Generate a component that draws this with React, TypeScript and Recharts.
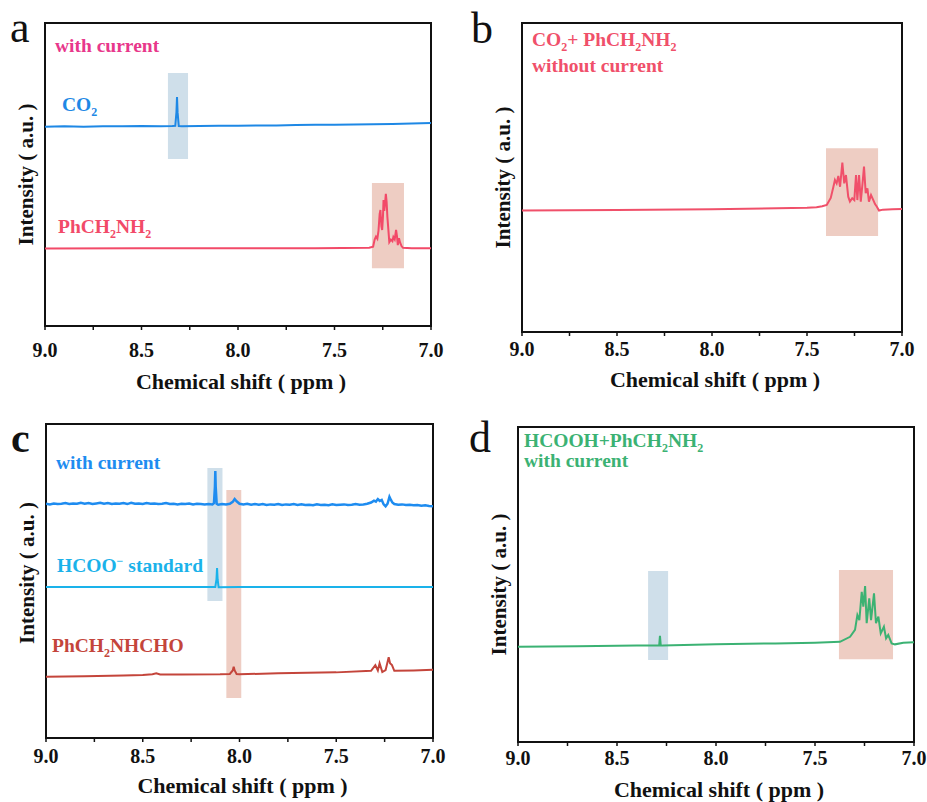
import React from 'react'
import { ComposedChart, Line, XAxis, YAxis, ReferenceArea } from 'recharts'

const SERIF = '"Liberation Serif", "Times New Roman", serif'
const INK = '#111'

const shiftTicks = [9, 8.75, 8.5, 8.25, 8, 7.75, 7.5, 7.25, 7]

// a: CO2 with current
const aCo2Shift = [9.0, 8.9, 8.8, 8.7, 8.6, 8.5, 8.4, 8.34, 8.325, 8.319, 8.316, 8.313, 8.307, 8.29, 8.2, 8.1, 8.0, 7.9, 7.8, 7.7, 7.6, 7.5, 7.4, 7.3, 7.2, 7.1, 7.0]
const aCo2Int = [65.8, 65.9, 65.8, 65.9, 65.9, 66.0, 65.9, 66.0, 66.1, 70.5, 75.6, 70.5, 66.0, 65.9, 66.0, 66.1, 66.1, 66.2, 66.2, 66.3, 66.4, 66.4, 66.5, 66.6, 66.7, 66.8, 67.0]

// a: PhCH2NH2 with current
const aAmineShift = [9.0, 8.5, 8.0, 7.6, 7.32, 7.3, 7.292, 7.285, 7.278, 7.272, 7.266, 7.262, 7.257, 7.253, 7.249, 7.246, 7.242, 7.238, 7.234, 7.23, 7.226, 7.222, 7.216, 7.208, 7.2, 7.195, 7.188, 7.181, 7.176, 7.172, 7.166, 7.16, 7.152, 7.145, 7.1, 7.0]
const aAmineInt = [25.6, 25.7, 25.7, 25.7, 25.8, 26.2, 28.5, 29.5, 28.8, 31.5, 37.0, 38.3, 33.0, 31.7, 36.0, 41.6, 38.0, 40.5, 43.6, 41.0, 36.0, 32.7, 27.7, 28.5, 28.0, 29.4, 28.6, 31.7, 29.5, 26.7, 29.0, 27.5, 26.3, 25.8, 25.7, 25.7]

// b: CO2 + PhCH2NH2 without current
const bMixShift = [9.0, 8.5, 8.0, 7.5, 7.45, 7.42, 7.396, 7.375, 7.361, 7.353, 7.344, 7.335, 7.326, 7.314, 7.304, 7.295, 7.283, 7.274, 7.262, 7.251, 7.242, 7.235, 7.226, 7.217, 7.207, 7.2, 7.191, 7.182, 7.174, 7.163, 7.151, 7.142, 7.133, 7.121, 7.1, 7.05, 7.0]
const bMixInt = [39.3, 39.5, 39.7, 40.2, 40.4, 40.7, 41.1, 43.4, 47.0, 49.2, 48.1, 50.5, 47.0, 54.8, 48.1, 50.8, 43.8, 42.2, 43.3, 42.7, 50.8, 42.7, 50.8, 42.2, 48.6, 53.5, 44.9, 46.5, 42.2, 44.3, 42.7, 41.4, 40.6, 39.3, 39.6, 39.7, 39.8]

// c: with current (noisy baseline)
const cRunShift = [9.0, 8.98, 8.96, 8.94, 8.92, 8.9, 8.88, 8.86, 8.84, 8.82, 8.8, 8.78, 8.76, 8.74, 8.72, 8.7, 8.68, 8.66, 8.64, 8.62, 8.6, 8.58, 8.56, 8.54, 8.52, 8.5, 8.48, 8.46, 8.44, 8.42, 8.4, 8.38, 8.36, 8.34, 8.32, 8.3, 8.28, 8.26, 8.24, 8.22, 8.2, 8.18, 8.16, 8.14, 8.132, 8.127, 8.125, 8.123, 8.118, 8.11, 8.09, 8.07, 8.05, 8.035, 8.025, 8.015, 8.0, 7.98, 7.96, 7.94, 7.92, 7.9, 7.88, 7.86, 7.84, 7.82, 7.8, 7.78, 7.76, 7.74, 7.72, 7.7, 7.68, 7.66, 7.64, 7.62, 7.6, 7.58, 7.56, 7.54, 7.52, 7.5, 7.48, 7.46, 7.44, 7.42, 7.4, 7.38, 7.36, 7.34, 7.32, 7.305, 7.295, 7.285, 7.275, 7.265, 7.255, 7.245, 7.235, 7.225, 7.218, 7.21, 7.2, 7.18, 7.16, 7.14, 7.12, 7.1, 7.08, 7.06, 7.04, 7.02, 7.0]
const cRunInt = [74.6, 74.4, 74.7, 74.5, 74.6, 74.8, 74.5, 74.7, 74.6, 74.9, 74.6, 74.8, 74.5, 74.7, 74.9, 74.6, 74.8, 74.5, 74.7, 74.6, 74.8, 74.5, 74.9, 74.6, 74.7, 74.5, 74.8, 74.6, 74.7, 74.5, 74.6, 74.8, 74.5, 74.6, 74.4, 74.6, 74.5, 74.7, 74.4, 74.6, 74.5, 74.4, 74.5, 74.4, 74.8, 80.0, 85.0, 80.0, 74.6, 74.3, 74.5, 74.4, 74.6, 75.2, 76.1, 75.4, 74.6, 74.4, 74.6, 74.3, 74.5, 74.3, 74.5, 74.2, 74.4, 74.3, 74.5, 74.2, 74.4, 74.3, 74.5, 74.2, 74.4, 74.2, 74.3, 74.1, 74.4, 74.2, 74.3, 74.1, 74.4, 74.2, 74.3, 74.4, 74.2, 74.3, 74.5, 74.3, 74.4, 74.6, 75.0, 75.6, 75.3, 76.1, 75.5, 75.8, 74.4, 73.8, 74.6, 76.8, 75.9, 75.0, 74.5, 74.3, 74.4, 74.2, 74.3, 74.1, 74.2, 74.0, 74.1, 73.9, 73.8]

// c: HCOO- standard
const cFormateShift = [9.0, 8.5, 8.2, 8.125, 8.119, 8.116, 8.113, 8.108, 8.0, 7.5, 7.0]
const cFormateInt = [48.1, 48.1, 48.1, 48.1, 50.5, 54.1, 50.5, 48.0, 48.1, 48.1, 48.1]

// c: PhCH2NHCHO
const cAmideShift = [9.0, 8.8, 8.6, 8.5, 8.45, 8.43, 8.41, 8.3, 8.1, 8.05, 8.035, 8.03, 8.025, 8.015, 8.0, 7.8, 7.5, 7.32, 7.298, 7.285, 7.276, 7.262, 7.245, 7.229, 7.222, 7.212, 7.2, 7.1, 7.0]
const cAmideInt = [19.5, 19.7, 19.9, 20.1, 20.3, 20.6, 20.2, 20.2, 20.3, 20.4, 21.5, 22.7, 21.5, 20.4, 20.3, 20.6, 20.9, 21.4, 23.2, 21.5, 23.8, 21.0, 21.6, 25.7, 23.8, 23.2, 21.4, 21.5, 21.7]

// d: HCOOH + PhCH2NH2 with current
const dMixShift = [9.0, 8.7, 8.4, 8.3, 8.287, 8.283, 8.279, 8.27, 8.0, 7.7, 7.5, 7.374, 7.323, 7.298, 7.286, 7.276, 7.264, 7.256, 7.247, 7.239, 7.226, 7.217, 7.202, 7.192, 7.18, 7.168, 7.152, 7.141, 7.13, 7.113, 7.096, 7.054, 7.0]
const dMixInt = [30.2, 30.4, 30.6, 30.6, 30.7, 33.7, 30.7, 30.6, 31.0, 31.3, 31.5, 31.8, 33.4, 35.6, 40.3, 38.7, 47.7, 43.0, 49.5, 37.7, 45.6, 38.7, 47.2, 37.7, 39.8, 34.5, 36.6, 32.9, 34.0, 31.3, 31.0, 31.5, 31.7]

const pts = (xs: number[], ys: number[]) => xs.map((x, i) => ({ x, y: ys[i] }))

const BLUE_BOX = '#9FBFD5'
const RED_BOX = '#DD9B87'

type Frame = { x: number; y: number; w: number; h: number }
type Series = { data: { x: number; y: number }[]; color: string; width?: number }
type Box = { x1: number; x2: number; y1: number; y2: number; fill: string }

const panels: { frame: Frame; series: Series[]; boxes: Box[]; tickDy: number; titleDy: number; yShift: number }[] = [
  {
    frame: { x: 45, y: 23, w: 386, h: 303 },
    series: [
      { data: pts(aCo2Shift, aCo2Int), color: '#1E88E5' },
      { data: pts(aAmineShift, aAmineInt), color: '#F24A68' },
    ],
    boxes: [
      { x1: 8.363, x2: 8.259, y1: 55.1, y2: 83.5, fill: BLUE_BOX },
      { x1: 7.306, x2: 7.14, y1: 19.1, y2: 47.2, fill: RED_BOX },
    ],
    tickDy: 31,
    titleDy: 63,
    yShift: 0,
  },
  {
    frame: { x: 522, y: 23, w: 380, h: 309 },
    series: [{ data: pts(bMixShift, bMixInt), color: '#F0506A' }],
    boxes: [{ x1: 7.4, x2: 7.126, y1: 31.1, y2: 59.5, fill: RED_BOX }],
    tickDy: 24,
    titleDy: 55,
    yShift: 0,
  },
  {
    frame: { x: 46, y: 424, w: 387, h: 314 },
    series: [
      { data: pts(cRunShift, cRunInt), color: '#1E8CF0', width: 2.5 },
      { data: pts(cFormateShift, cFormateInt), color: '#1AB2EA' },
      { data: pts(cAmideShift, cAmideInt), color: '#C4453B' },
    ],
    boxes: [
      { x1: 8.166, x2: 8.088, y1: 43.6, y2: 86, fill: BLUE_BOX },
      { x1: 8.068, x2: 7.991, y1: 12.7, y2: 79, fill: RED_BOX },
    ],
    tickDy: 25,
    titleDy: 55,
    yShift: -8,
  },
  {
    frame: { x: 518, y: 427, w: 396, h: 315 },
    series: [{ data: pts(dMixShift, dMixInt), color: '#3BB273' }],
    boxes: [
      { x1: 8.343, x2: 8.242, y1: 26, y2: 54.3, fill: BLUE_BOX },
      { x1: 7.379, x2: 7.106, y1: 26.3, y2: 54.6, fill: RED_BOX },
    ],
    tickDy: 23,
    titleDy: 55,
    yShift: 0,
  },
]

function ShiftTick(props: any) {
  const { x, y, payload, labelDy } = props
  const v = payload.value as number
  const major = Math.abs(v * 2 - Math.round(v * 2)) < 1e-6
  return (
    <g>
      <line x1={x} x2={x} y1={y} y2={y + 4} stroke={INK} strokeWidth={1.5} />
      {major && (
        <text x={x} y={y + labelDy} textAnchor="middle" fontSize={20} fontWeight="bold" fontFamily={SERIF} fill={INK}>
          {v.toFixed(1)}
        </text>
      )}
    </g>
  )
}

function Spectrum({ frame, series, boxes, tickDy }: { frame: Frame; series: Series[]; boxes: Box[]; tickDy: number }) {
  const ML = 20
  const MR = 20
  const MT = 10
  const AXH = 40
  return (
    <div style={{ position: 'absolute', left: frame.x - ML, top: frame.y - MT }}>
      <ComposedChart
        width={frame.w + ML + MR}
        height={frame.h + MT + AXH}
        margin={{ top: MT, right: MR, bottom: 0, left: ML }}
      >
        <XAxis
          dataKey="x"
          type="number"
          domain={[7, 9]}
          reversed
          allowDataOverflow
          ticks={shiftTicks}
          interval={0}
          tickSize={0}
          tickMargin={0}
          tickLine={false}
          axisLine={false}
          height={AXH}
          tick={(p: any) => <ShiftTick {...p} labelDy={tickDy} />}
        />
        <YAxis type="number" domain={[0, 100]} allowDataOverflow hide />
        {boxes.map((b, i) => (
          <ReferenceArea
            key={i}
            x1={b.x1}
            x2={b.x2}
            y1={b.y1}
            y2={b.y2}
            fill={b.fill}
            fillOpacity={0.5}
            stroke="none"
            ifOverflow="visible"
          />
        ))}
        {series.map((s, i) => (
          <Line
            key={i}
            data={s.data}
            dataKey="y"
            type="linear"
            stroke={s.color}
            strokeWidth={s.width ?? 2}
            dot={false}
            activeDot={false}
            isAnimationActive={false}
          />
        ))}
        {/* plot frame */}
        <ReferenceArea x1={9} x2={7} y1={0} y2={100} fill="none" stroke={INK} strokeWidth={2} ifOverflow="visible" />
      </ComposedChart>
    </div>
  )
}

type Part = [string, ('sub' | 'sup')?]

function RichText({ x, y, color, parts, size = 19.5 }: { x: number; y: number; color: string; parts: Part[]; size?: number }) {
  let shift = 0
  return (
    <text x={x} y={y} fill={color} fontSize={size} fontWeight="bold" fontFamily={SERIF}>
      {parts.map(([s, kind], i) => {
        const target = kind === 'sub' ? 5 : kind === 'sup' ? -7 : 0
        const dy = target - shift
        shift = target
        return (
          <tspan key={i} dy={dy} fontSize={kind ? 12 : size}>
            {s}
          </tspan>
        )
      })}
    </text>
  )
}

function Titles() {
  return (
    <svg width={927} height={802} style={{ position: 'absolute', left: 0, top: 0, pointerEvents: 'none' }}>
      {panels.map((p, i) => {
        const cx = p.frame.x + p.frame.w / 2 + 3
        const ty = p.frame.y + p.frame.h + p.titleDy
        const yx = p.frame.x - 12
        const yy = p.frame.y + p.frame.h / 2 + p.yShift
        return (
          <g key={i} fontFamily={SERIF} fontWeight="bold" fill={INK}>
            <text x={cx} y={ty} textAnchor="middle" fontSize={22}>
              Chemical shift ( ppm )
            </text>
            <text x={yx} y={yy} textAnchor="middle" fontSize={21} transform={`rotate(-90 ${yx} ${yy})`}>
              Intensity ( a.u. )
            </text>
          </g>
        )
      })}

      <g fontFamily={SERIF} fill={INK}>
        <text x={10} y={42} fontSize={44}>a</text>
        <text x={471} y={43} fontSize={44}>b</text>
        <text x={11} y={452} fontSize={42} fontWeight="bold">c</text>
        <text x={469} y={452} fontSize={44}>d</text>
      </g>

      <RichText x={55} y={52} color="#E8378B" parts={[['with current']]} />
      <RichText x={62} y={111} color="#1E88E5" parts={[['CO'], ['2', 'sub']]} />
      <RichText x={58} y={233} color="#F24A68" parts={[['PhCH'], ['2', 'sub'], ['NH'], ['2', 'sub']]} />

      <RichText x={532} y={46} color="#F0506A" parts={[['CO'], ['2', 'sub'], ['+ PhCH'], ['2', 'sub'], ['NH'], ['2', 'sub']]} />
      <RichText x={532} y={72} color="#F0506A" parts={[['without current']]} />

      <RichText x={56} y={469} color="#1E8CF0" parts={[['with current']]} />
      <RichText x={57} y={572} color="#1AB2EA" parts={[['HCOO'], ['−', 'sup'], [' standard']]} />
      <RichText x={52} y={652} color="#C4453B" parts={[['PhCH'], ['2', 'sub'], ['NHCHO']]} />

      <RichText x={524} y={447} color="#3BB273" parts={[['HCOOH+PhCH'], ['2', 'sub'], ['NH'], ['2', 'sub']]} />
      <RichText x={524} y={467} color="#3BB273" parts={[['with current']]} />
    </svg>
  )
}

export default function App() {
  return (
    <div style={{ position: 'absolute', left: 0, top: 0, width: 927, height: 802, background: '#fff', overflow: 'hidden' }}>
      {panels.map((p, i) => (
        <Spectrum key={i} frame={p.frame} series={p.series} boxes={p.boxes} tickDy={p.tickDy} />
      ))}
      <Titles />
    </div>
  )
}
